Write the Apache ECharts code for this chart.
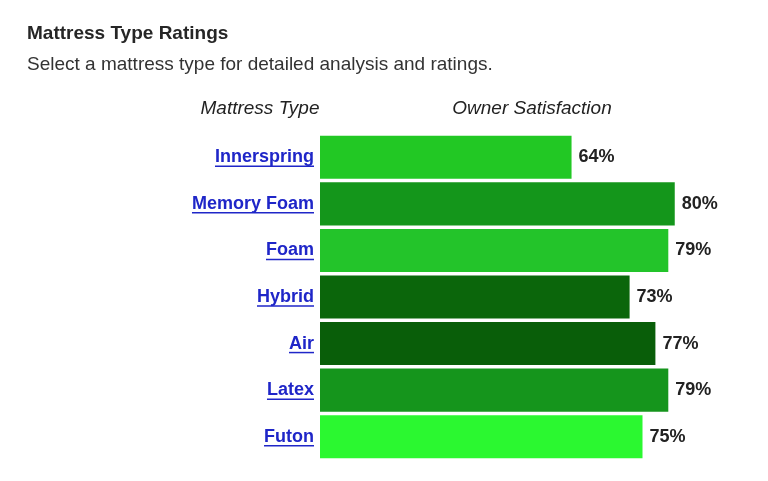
<!DOCTYPE html>
<html><head><meta charset="utf-8">
<script src="https://cdn.jsdelivr.net/npm/echarts@6/dist/echarts.min.js"></script>
<style>html,body{margin:0;padding:0;background:#fff}#c{width:768px;height:481px}</style>
</head><body><div id="c"></div>
<script>
const categories = ['Innerspring','Memory Foam','Foam','Hybrid','Air','Latex','Futon'];
const satisfaction = [64, 80, 79, 73, 77, 79, 75];
const barColors = ['#22c824','#14961b','#23c42a','#0b660b','#095e09','#15951c','#2bf830'];
const titleText = 'Mattress Type Ratings';
const subtitleText = 'Select a mattress type for detailed analysis and ratings.';
const colHeaders = ['Mattress Type', 'Owner Satisfaction'];

const FONT = '"Liberation Sans", Arial, Helvetica, sans-serif';
const chart = echarts.init(document.getElementById('c'), null, {renderer:'canvas'});
const LABEL_SIZE = 18;
const option = {
  animation: false,
  backgroundColor: '#fff',
  title: [
    {text: titleText, left: 22, top: 19, textStyle:{fontFamily:FONT, fontSize:19, fontWeight:'bold', color:'#262626'}},
    {text: subtitleText, left: 22, top: 50, textStyle:{fontFamily:FONT, fontSize:19, fontWeight:'normal', color:'#333'}},
    {text: colHeaders[0], left: 255, top: 94, textAlign:'center', textStyle:{fontFamily:FONT, fontSize:19, fontStyle:'italic', fontWeight:'normal', color:'#222'}},
    {text: colHeaders[1], left: 527, top: 94, textAlign:'center', textStyle:{fontFamily:FONT, fontSize:19, fontStyle:'italic', fontWeight:'normal', color:'#222'}}
  ],
  grid: {left: 320, top: 134, width: 387, height: 326, containLabel:false},
  xAxis: {type:'value', min:25, max:85, show:false},
  yAxis: {
    type:'category', data: categories, inverse:true,
    axisLine:{show:false}, axisTick:{show:false}, splitLine:{show:false},
    axisLabel:{margin:6, fontFamily:FONT, fontSize:LABEL_SIZE, fontWeight:'bold', color:'#1f26c8'}
  },
  series: [{
    type:'bar', data: satisfaction.map((v,i)=>({value:v, itemStyle:{color:barColors[i]}})),
    barCategoryGap:'7.5%',
    label:{show:true, position:'right', distance:7, formatter:'{c}%', fontFamily:FONT, fontSize:LABEL_SIZE, fontWeight:'bold', color:'#222'}
  }]
};
chart.setOption(option);

// underline the category labels (links)
const ctx = document.createElement('canvas').getContext('2d');
ctx.font = 'bold ' + LABEL_SIZE + 'px ' + FONT;
const rightX = chart.convertToPixel({gridIndex:0}, [25, 0])[0] - 6;
const lines = categories.map((c,i)=>{
  const y = chart.convertToPixel({yAxisIndex:0}, c);
  const w = ctx.measureText(c).width;
  return {type:'line', shape:{x1:rightX - w, y1:y+9, x2:rightX, y2:y+9}, style:{stroke:'#1f26c8', lineWidth:1.5}};
});
chart.setOption({graphic: lines});
</script></body></html>
